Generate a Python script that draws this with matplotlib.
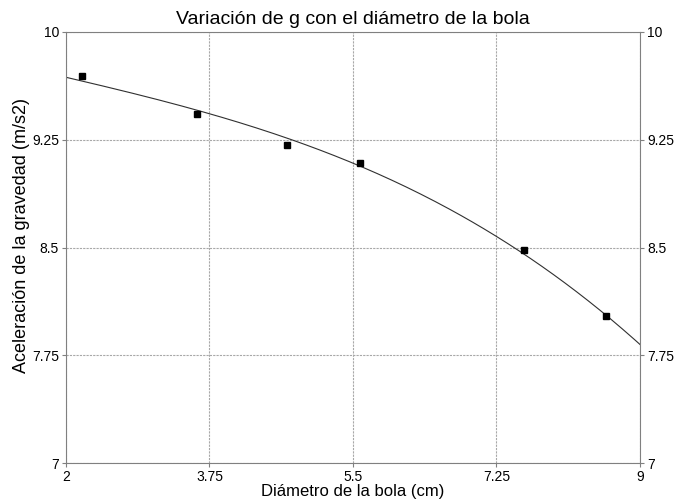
import numpy as np
import matplotlib.pyplot as plt

plt.rcParams['font.family'] = ['Liberation Sans', 'DejaVu Sans']

# data
diametro = [2.20, 3.60, 4.69, 5.59, 7.59, 8.58]
g = [9.69, 9.43, 9.21, 9.09, 8.48, 8.02]
# points
curva_x = [2.0, 3.75, 4.714, 5.834, 7.25, 9.0]
curva_y = [9.683, 9.438, 9.253, 8.999, 8.583, 7.824]
xticks = [2, 3.75, 5.5, 7.25, 9]
yticks = [7, 7.75, 8.5, 9.25, 10]
xlabels = ['2', '3.75', '5.5', '7.25', '9']
ylabels = ['7', '7.75', '8.5', '9.25', '10']

# smooth trend line through the read points
coef = np.polyfit(curva_x, curva_y, 3)
xs = np.linspace(2, 9, 200)

fig = plt.figure(figsize=(6.83, 4.99), dpi=100)
ax = fig.add_axes([0.0966, 0.072, 0.8404, 0.864])

ax.plot(xs, np.polyval(coef, xs), color='#303030', lw=0.8)
ax.plot(diametro, g, 's', color='black', markersize=4)

ax.set_xlim(2, 9)
ax.set_ylim(7, 10)
ax.set_xticks(xticks)
ax.set_xticklabels(xlabels)
ax.set_yticks(yticks)
ax.set_yticklabels(ylabels)
ax.tick_params(labelsize=10, length=3, color='#808080', right=True, labelright=True, pad=2)
ax.grid(True, color='#a8a8a8', lw=0.8, ls=(0, (2, 1)))
for s in ax.spines.values():
    s.set_color('#808080')

ax.set_title('Variación de g con el diámetro de la bola', fontsize=14, pad=6)
ax.set_xlabel('Diámetro de la bola (cm)', fontsize=12, labelpad=0)
ax.set_ylabel('Aceleración de la gravedad (m/s2)', fontsize=13)
ax.yaxis.set_label_coords(-0.062, 0.527)

fig.savefig('out.png', dpi=100)
